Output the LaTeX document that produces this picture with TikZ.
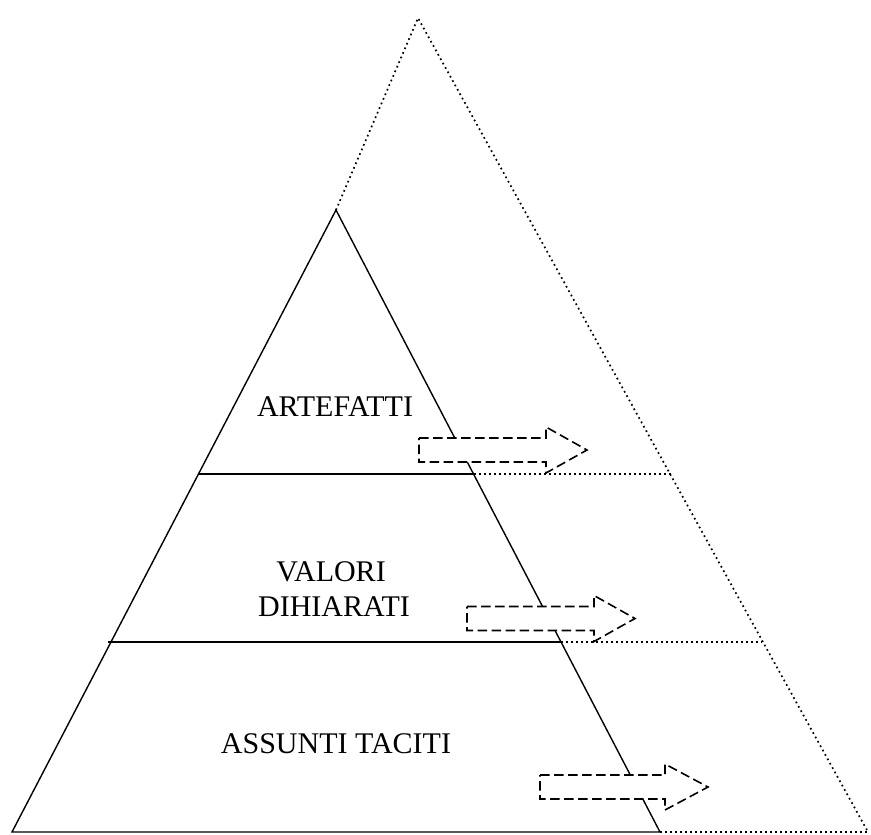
\documentclass[tikz,border=0pt]{standalone}
\usepackage{fontspec}
\setmainfont{Liberation Serif}
\begin{document}
\begin{tikzpicture}[x=1pt,y=-1pt,
  solidline/.style={line width=1.4pt},
  dotline/.style={line width=1.7pt,dash pattern=on 1.7pt off 3.3pt},
  dasharrow/.style={line width=1.6pt,dash pattern=on 9.5pt off 4.5pt,fill=white,line join=miter},
  lbl/.style={font=\fontsize{30}{35}\selectfont,anchor=base,inner sep=0pt}]
\useasboundingbox (0,0) rectangle (871,835);
% key points
\coordinate (DA) at (418,18);   % dotted apex
\coordinate (DR) at (868,832);  % dotted bottom right
\coordinate (SA) at (336,210);  % solid apex
\coordinate (SL) at (12,832);   % solid bottom left
\coordinate (SR) at (660,832);  % solid bottom right
\coordinate (H1L) at (198,474);
\coordinate (H1R) at (474,474);
\coordinate (H1D) at (672,474);
\coordinate (H2L) at (108,642);
\coordinate (H2R) at (561,642);
\coordinate (H2D) at (762,642);
% dotted outer triangle
\draw[dotline] (SA) -- (DA) -- (DR);
\draw[dotline] (SR) -- (DR);
\draw[dotline] (H1R) -- (H1D);
\draw[dotline] (H2R) -- (H2D);
% solid triangle and layers
\draw[solidline] (SA) -- (SL) -- (SR) -- cycle;
\draw[solidline] (H1L) -- (H1R);
\draw[solidline] (H2L) -- (H2R);
% labels
\node[lbl] (art) at (335,416) {ARTEFATTI};
\node[lbl] (val) at (331,581) {VALORI};
\node[lbl] (dih) at (334,616) {DIHIARATI};
\node[lbl] (ass) at (336,753) {ASSUNTI TACITI};
% dashed arrows
\foreach \x/\y/\b/\t in {419/450/127/168, 467/618.5/127/168, 540/787/125/168}{
  \draw[dasharrow] (\x,\y-12) -- (\x+\b,\y-12) -- (\x+\b,\y-23) -- (\x+\t,\y) -- (\x+\b,\y+23) -- (\x+\b,\y+12) -- (\x,\y+12) -- cycle;
}
\end{tikzpicture}
\end{document}
